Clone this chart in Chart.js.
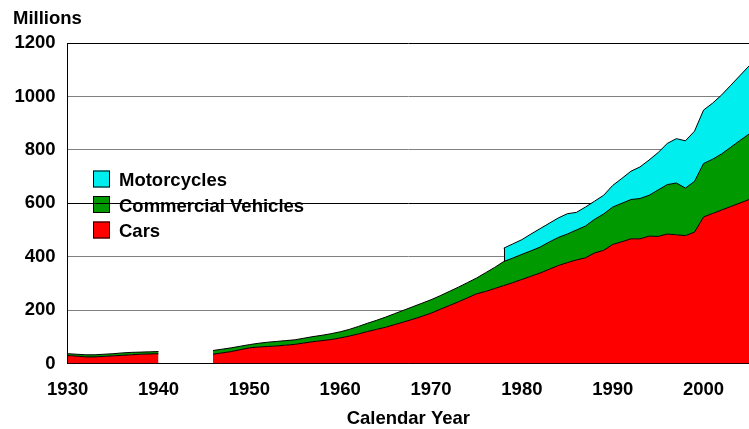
<!DOCTYPE html>
<html>
<head>
<meta charset="utf-8">
<script src="https://cdn.jsdelivr.net/npm/chart.js@4.4.1/dist/chart.umd.min.js"></script>
<style>
  html, body { margin: 0; padding: 0; background: #fff; }
  #wrap { width: 749px; height: 429px; position: relative; }
</style>
</head>
<body>
<div id="wrap"><canvas id="chart"></canvas></div>
<script>
// years 1930..2005, no data for the war years 1941-1945
var years = [];
for (var y = 1930; y <= 2005; y++) years.push(y);

var cars = [
  30, 28, 25, 25, 27, 29, 31, 33, 35, 36, 37,
  null, null, null, null, null,
  35, 40, 45, 52, 59, 62, 64, 66, 69, 72, 77, 82, 86, 90,
  96, 103, 111, 120, 128, 136, 146, 156, 166, 177,
  189, 203, 217, 231, 246, 261, 270, 281, 292, 303,
  315, 327, 339, 353, 367, 378, 388, 396, 414, 424,
  446, 456, 467, 467, 477, 476, 485, 482, 479, 492,
  549, 562, 575, 588, 601, 614
];

var commercial = [
  7, 7, 8, 8, 8, 8, 9, 9, 8, 8, 8,
  null, null, null, null, null,
  14, 14, 14, 13, 12, 14, 16, 17, 17, 17, 18, 19, 20, 22,
  23, 25, 28, 31, 34, 38, 41, 44, 47, 49,
  50, 51, 53, 55, 57, 59, 70, 79, 90, 92,
  94, 95, 97, 102, 105, 107, 112, 119, 126, 136,
  140, 144, 147, 151, 153, 174, 185, 194, 178, 190,
  200, 203, 210, 222, 234, 245
];

// motorcycles only counted from 1978
var motorcycles = [
  null, null, null, null, null, null, null, null, null, null, null,
  null, null, null, null, null,
  null, null, null, null, null, null, null, null, null, null, null, null, null, null,
  null, null, null, null, null, null, null, null, null, null,
  null, null, null, null, null, null, null, null, 50, 53,
  55, 63, 69, 70, 73, 76, 66, 71, 68, 70,
  81, 93, 106, 118, 132, 140, 154, 166, 177, 188,
  200, 210, 221, 232, 243, 255
];

var yTicks = [0, 200, 400, 600, 800, 1000, 1200];

var FONT = "'Liberation Sans', Arial, sans-serif";
var FS = 18.5;

// legend + "Millions" drawn before the grid so the grid runs over it
var overlay = {
  id: 'overlay',
  beforeDraw: function (chart) {
    var ctx = chart.ctx;
    ctx.save();
    ctx.font = 'bold ' + FS + 'px ' + FONT;
    ctx.textBaseline = 'middle';
    ctx.fillStyle = '#000';
    ctx.textAlign = 'left';
    ctx.fillText('Millions', 13, 19);

    var ds = chart.data.datasets;
    var rows = [ds[2], ds[1], ds[0]];
    for (var i = 0; i < rows.length; i++) {
      var cy = 179 + i * 25.5;
      ctx.fillStyle = rows[i].backgroundColor;
      ctx.fillRect(93, cy - 8.5, 17, 17);
      ctx.strokeStyle = '#000';
      ctx.lineWidth = 1;
      ctx.strokeRect(93.5, cy - 8, 16, 16);
      ctx.fillStyle = '#000';
      ctx.fillText(rows[i].label, 119, cy + 2);
    }
    ctx.restore();
  },
  // black edge where the motorcycle series starts
  afterDatasetsDraw: function (chart) {
    var meta = chart.getDatasetMeta(2);
    var below = chart.getDatasetMeta(1);
    var i = motorcycles.findIndex(function (v) { return v !== null; });
    var p = meta.data[i], q = below.data[i];
    var ctx = chart.ctx;
    ctx.save();
    ctx.strokeStyle = '#000';
    ctx.lineWidth = 1;
    ctx.beginPath();
    ctx.moveTo(Math.round(p.x) + 0.5, p.y);
    ctx.lineTo(Math.round(p.x) + 0.5, q.y);
    ctx.stroke();
    ctx.restore();
  }
};

var ctx = document.getElementById('chart').getContext('2d');

var myChart = new Chart(ctx, {
  type: 'line',
  data: {
    labels: years,
    datasets: [{
      label: 'Cars',
      data: cars,
      backgroundColor: '#FF0000',
      borderColor: '#000',
      borderWidth: 1,
      fill: 'origin'
    }, {
      label: 'Commercial Vehicles',
      data: commercial,
      backgroundColor: '#009900',
      borderColor: '#000',
      borderWidth: 1,
      fill: '-1'
    }, {
      label: 'Motorcycles',
      data: motorcycles,
      backgroundColor: '#00EEEE',
      borderColor: '#000',
      borderWidth: 1,
      fill: '-1'
    }]
  },
  options: {
    responsive: true,
    maintainAspectRatio: false,
    animation: false,
    spanGaps: false,
    elements: {
      point: { radius: 0, hoverRadius: 0 },
      line: { tension: 0 }
    },
    layout: { padding: { top: 43, left: 2.5, right: 0, bottom: -1 } },
    plugins: {
      legend: { display: false },
      tooltip: { enabled: false }
    },
    scales: {
      x: {
        offset: false,
        grid: { display: false },
        border: { color: '#000', width: 1 },
        afterFit: function (s) { s.paddingLeft = 0; s.paddingRight = 0; },
        ticks: {
          autoSkip: false,
          maxRotation: 0,
          padding: 7,
          color: '#000',
          font: { family: FONT, size: FS, weight: 'bold' },
          callback: function (val, i) {
            return years[i] % 10 === 0 ? String(years[i]) : '';
          }
        },
        title: {
          display: true,
          text: 'Calendar Year',
          color: '#000',
          font: { family: FONT, size: FS, weight: 'bold' },
          padding: { top: 0, bottom: 0 }
        }
      },
      y: {
        stacked: true,
        min: 0,
        max: 1200,
        afterBuildTicks: function (scale) {
          scale.ticks = yTicks.map(function (v) { return { value: v }; });
        },
        grid: {
          drawTicks: false,
          lineWidth: 1,
          color: function (c) {
            var v = c.tick ? c.tick.value : 0;
            return (v === 1200 || v === 600 || v === 0) ? '#000' : '#808080';
          }
        },
        border: { color: '#000', width: 1 },
        ticks: {
          padding: 12,
          color: '#000',
          font: { family: FONT, size: FS, weight: 'bold' },
          callback: function (v) { return String(v); }
        }
      }
    }
  },
  plugins: [overlay]
});
</script>
</body>
</html>
